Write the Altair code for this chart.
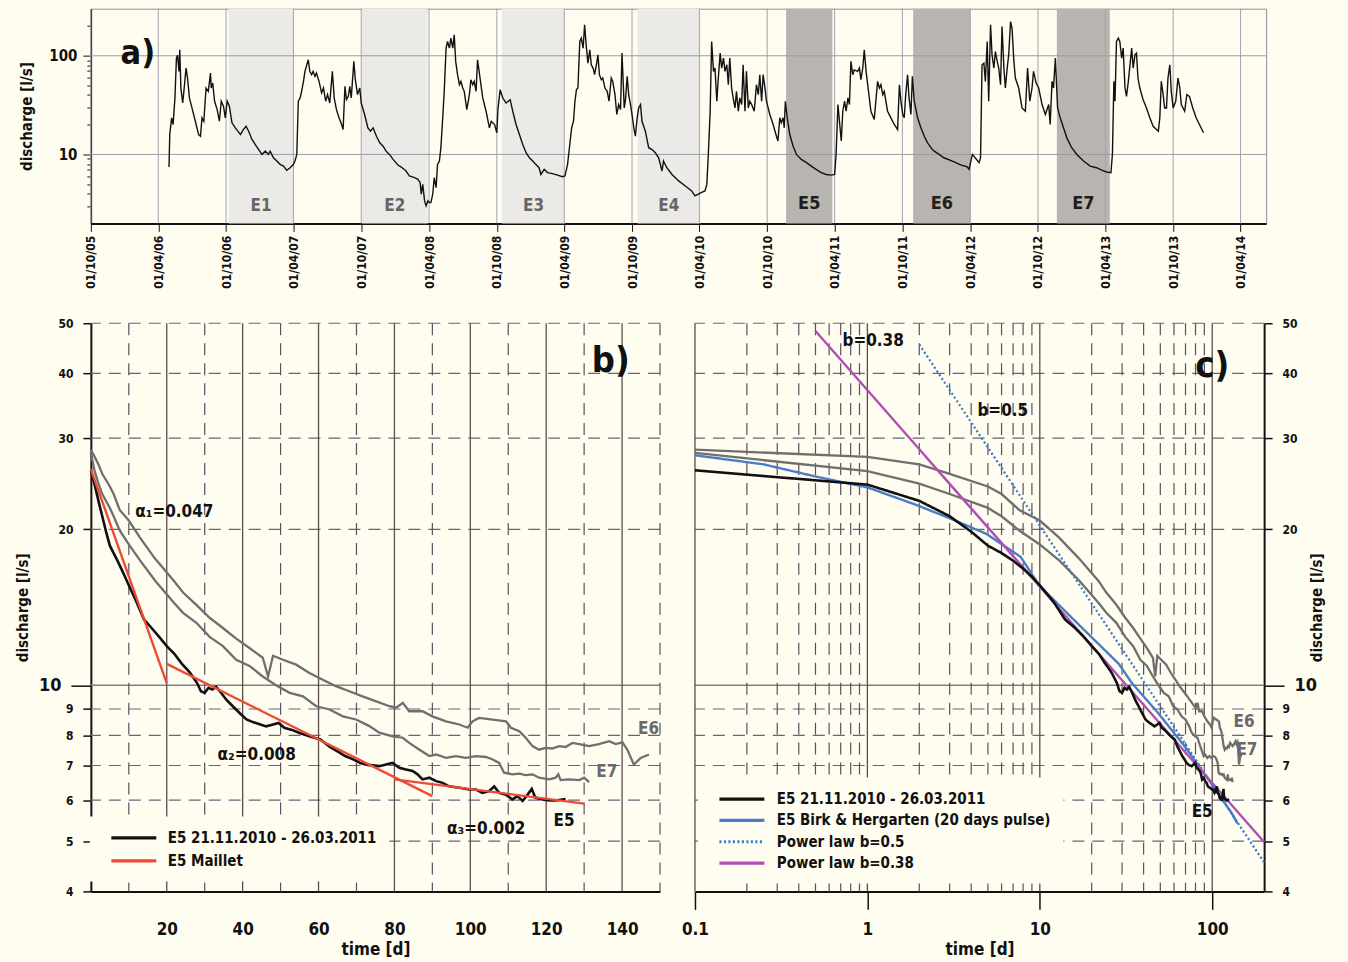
import altair as alt
import pandas as pd

FONT = "Liberation Sans Narrow, Arial Narrow, DejaVu Sans Condensed, sans-serif"
BG = "#fffcf0"
INK = "#111111"
GREY = "#6f6f6f"

# ---------------- panel a: discharge time series ----------------
a_origin = "2006-04-01"   # day offsets below are counted from this date
a_day = [
    29, 31, 36, 40, 45, 49, 52, 56, 58, 61,
    66, 70, 75, 79, 84, 91, 100, 109, 114, 118,
    123, 129, 135, 141, 143, 147, 152, 159, 165, 170,
    176, 181, 186, 192, 199, 208, 222, 230, 237, 244,
    253, 262, 271, 280, 289, 297, 302, 311, 320, 329,
    338, 347, 356, 365, 369, 374, 378, 383, 387, 392,
    396, 401, 405, 409, 414, 418, 423, 427, 434, 441,
    446, 452, 457, 463, 470, 475, 481, 488, 495, 499,
    504, 508, 513, 517, 521, 528, 532, 538, 544, 548,
    557, 566, 573, 580, 589, 598, 607, 615, 624, 634,
    647, 656, 669, 678, 692, 701, 707, 710, 714, 719,
    723, 728, 732, 736, 741, 745, 750, 754, 759, 763,
    768, 772, 777, 781, 786, 790, 795, 799, 803, 808,
    813, 817, 822, 826, 833, 840, 844, 849, 853, 858,
    862, 876, 885, 894, 899, 908, 914, 917, 923, 930,
    939, 950, 957, 966, 975, 984, 993, 1002, 1011, 1019,
    1028, 1033, 1042, 1051, 1064, 1078, 1091, 1098, 1105, 1111,
    1116, 1121, 1125, 1129, 1133, 1138, 1142, 1147, 1151, 1156,
    1160, 1165, 1169, 1174, 1178, 1183, 1187, 1191, 1196, 1200,
    1206, 1212, 1217, 1223, 1227, 1233, 1238, 1243, 1248, 1252,
    1258, 1261, 1266, 1270, 1275, 1279, 1284, 1288, 1293, 1297,
    1302, 1306, 1315, 1324, 1333, 1342, 1351, 1360, 1364, 1373,
    1387, 1405, 1423, 1440, 1449, 1458, 1467, 1476, 1481, 1485,
    1490, 1494, 1499, 1503, 1508, 1512, 1517, 1521, 1526, 1530,
    1535, 1539, 1543, 1548, 1552, 1557, 1561, 1566, 1570, 1575,
    1579, 1584, 1588, 1593, 1597, 1602, 1609, 1615, 1620, 1624,
    1629, 1633, 1638, 1642, 1651, 1660, 1669, 1673, 1678, 1682,
    1687, 1690, 1693, 1698, 1705, 1714, 1723, 1736, 1750, 1763,
    1776, 1790, 1803, 1817, 1826, 1830, 1835, 1839, 1844, 1848,
    1853, 1857, 1862, 1866, 1870, 1875, 1879, 1888, 1893, 1897,
    1902, 1906, 1911, 1924, 1933, 1942, 1947, 1951, 1956, 1960,
    1969, 1978, 1987, 1996, 2001, 2005, 2010, 2014, 2018, 2023,
    2027, 2032, 2036, 2041, 2050, 2059, 2068, 2077, 2090, 2095,
    2108, 2121, 2139, 2153, 2166, 2184, 2189, 2198, 2207, 2216,
    2220, 2224, 2229, 2233, 2238, 2242, 2247, 2251, 2256, 2260,
    2265, 2269, 2274, 2278, 2283, 2287, 2292, 2296, 2301, 2305,
    2310, 2314, 2323, 2332, 2341, 2347, 2353, 2359, 2363, 2370,
    2377, 2386, 2395, 2404, 2408, 2413, 2417, 2422, 2428, 2435,
    2444, 2453, 2466, 2480, 2498, 2516, 2533, 2547, 2560, 2572,
    2576, 2580, 2583, 2587, 2592, 2596, 2601, 2605, 2610, 2614,
    2619, 2628, 2632, 2637, 2641, 2645, 2650, 2659, 2668, 2677,
    2686, 2695, 2700, 2704, 2708, 2713, 2717, 2722, 2726, 2731,
    2735, 2740, 2747, 2753, 2758, 2762, 2771, 2777, 2784, 2793,
    2802, 2811, 2822,
]
a_q = [
    7.45, 15.9, 23.5, 20.1, 37.4, 94.7, 101, 69.5, 115, 47.1,
    33.2, 47.1, 75, 59.5, 37.4, 29.6, 21.7, 15.9, 15.3, 23.5,
    21.7, 47.1, 43.6, 66.8, 47.1, 53, 34.6, 28.5, 21.7, 34.6,
    30.8, 23.5, 34.6, 30.8, 20.9, 18.6, 15.9, 17.9, 19.3, 17.2,
    14.2, 12.6, 11.2, 10, 10.8, 10, 10.8, 9.25, 8.57, 7.93,
    7.62, 6.9, 7.33, 7.93, 8.57, 10, 34.6, 37.4, 43.6, 55,
    69.5, 81, 91.1, 69.5, 64.3, 69.5, 61.8, 66.8, 55, 42,
    47.1, 34.6, 40.4, 33.2, 69.5, 37.4, 28.5, 23.5, 20.1, 17.9,
    49, 36, 38.8, 49, 37.4, 87.7, 57.2, 40.4, 47.1, 33.2,
    25.4, 18.6, 17.2, 18.6, 15.3, 13.1, 12.1, 10.8, 10, 8.9,
    7.8, 7.45, 6.79, 6.04, 5.81, 5.59, 5.17, 3.95, 4.97, 3.38,
    3.01, 3.38, 3.25, 3.25, 3.95, 5.81, 4.6, 7.93, 8.57, 11.7,
    23.5, 43.6, 119.5, 139.5, 119.5, 150.8, 119.5, 163, 87.7, 64.3,
    50.9, 55, 47.1, 43.6, 28.5, 40.4, 57.2, 50.9, 55, 43.6,
    91, 37.4, 27.4, 18.6, 21.7, 20.1, 16.6, 28.5, 45.4, 37.4,
    33.2, 35.9, 27.4, 20.1, 15.9, 12.6, 10.4, 9.25, 8.57, 7.93,
    7.33, 6.26, 7.05, 6.54, 6.38, 6.17, 5.94, 6.04, 7.93, 12.6,
    18.6, 21.7, 34.6, 45.4, 47.1, 139.5, 150.8, 119.5, 205.8, 119.5,
    84.3, 115, 81.1, 75.1, 64.3, 81.1, 102.4, 64.3, 57.2, 59.5,
    47.1, 43.6, 34.6, 59.5, 55, 40.4, 25.4, 32.0, 28.5, 106.4,
    29.6, 34.6, 61.8, 40.4, 32.0, 25.4, 18.6, 15.3, 23.5, 29.6,
    32.0, 21.7, 17.2, 11.7, 11.2, 10.4, 9.25, 6.79, 8.57, 7.33,
    6.26, 5.39, 4.79, 4.27, 3.8, 3.95, 4.13, 4.27, 4.97, 10,
    27.4, 139.5, 69.5, 75.1, 34.6, 59.5, 106.4, 75.1, 94.7, 69.5,
    81.1, 50.9, 94.7, 47.1, 37.4, 29.6, 43.6, 27.4, 37.4, 32.0,
    81.1, 27.4, 69.5, 29.6, 34.6, 32.0, 27.4, 50.9, 40.4, 64.3,
    34.6, 64.3, 47.1, 34.6, 25.4, 20.1, 15.3, 13.7, 23.5, 20.9,
    23.5, 18.6, 34.6, 23.5, 15.9, 12.1, 10, 8.9, 8.26, 7.62,
    7.05, 6.54, 6.26, 6.17, 6.26, 10, 32.0, 21.7, 13.7, 27.4,
    34.6, 27.4, 37.4, 32.0, 87.7, 64.3, 72, 69.5, 75.1, 57.2,
    75.1, 115, 69.5, 27.4, 22.6, 55, 47.1, 50.9, 40.4, 43.6,
    27.4, 23.5, 20.1, 17.9, 50.9, 34.6, 25.4, 23.5, 40.4, 64.3,
    37.4, 25.4, 61.8, 34.6, 23.5, 18.6, 15.3, 13.1, 11.2, 10.8,
    10.0, 9.25, 8.7, 8.26, 7.83, 7.5, 7.05, 10.0, 9.1, 8.26,
    9.25, 81.1, 84.3, 55, 139.5, 34.6, 205.8, 102.4, 75.1, 110.6,
    87.7, 75.1, 50.9, 197.6, 75.1, 47.1, 75.1, 102.4, 222, 190.3,
    87.7, 59.5, 47.1, 29.6, 27.4, 75.1, 34.6, 47.1, 69.5, 52.9,
    47.1, 32.0, 25.4, 32.0, 20.1, 55, 47.1, 94.7, 29.6, 23.5,
    18.6, 14.7, 11.7, 10.0, 8.57, 7.62, 7.33, 6.94, 6.64, 6.54,
    10.0, 55, 34.6, 139.5, 150.8, 139.5, 94.7, 119.5, 47.1, 38.8,
    55, 119.5, 75.1, 102.4, 106.4, 59.5, 47.1, 35.9, 29.6, 23.5,
    19.3, 17.9, 17.2, 23.5, 55, 40.4, 29.6, 29.6, 59.5, 81.1,
    43.6, 29.6, 34.6, 59.5, 47.1, 32.0, 27.4, 40.4, 38.8, 29.6,
    23.5, 20.1, 16.6,
]
assert len(a_day) == len(a_q)

event_names = ["E1", "E2", "E3", "E4", "E5", "E6", "E7"]
event_start = ["2006-10-08", "2007-10-03", "2008-10-15", "2009-10-16",
               "2010-11-21", "2011-10-30", "2012-11-21"]
event_end = ["2007-04-01", "2008-03-28", "2009-04-03", "2010-04-03",
             "2011-03-26", "2012-04-02", "2013-04-13"]
event_dark = [False, False, False, False, True, True, True]

a_tick_dates = [f"{y}-{m:02d}-01" for y in range(2005, 2015) for m in (1, 4, 7, 10)
                if "2005-10-01" <= f"{y}-{m:02d}-01" <= "2014-04-01"]
a_grid_dates = [d for d in a_tick_dates if d[5:7] in ("04", "10")]
a_grid_q = [10, 100]
a_y_ticks = [3, 4, 5, 6, 7, 8, 9, 10, 20, 30, 40, 50, 60, 70, 80, 90, 100, 200]

# ---------------- panels b and c: recession curves ----------------
E5_LABEL = "E5 21.11.2010 - 26.03.2011"
e5_day = [
    0, 1, 2, 3, 4, 5, 6, 7, 8, 9,
    10, 12, 14, 16, 18, 20, 22, 24, 26, 28,
    29, 30, 31, 32, 33, 34, 35.7, 37.4, 39.2, 41,
    42.7, 44.5, 46.2, 48, 49.5, 51, 53, 55, 58, 60.5,
    63, 65, 67, 69, 71, 73, 76, 77.8, 79.5, 81.3,
    83, 84.8, 86.1, 87.4, 89.2, 91, 92.7, 94.4, 97.1, 99.7,
    101.5, 103.2, 105, 106.3, 107.6, 109.4, 111.1, 112.4, 113.8, 115.1,
    116.2, 117.1, 119, 120.8, 122.5, 125.1,
]
e5_q = [
    26.0, 24.4, 22.7, 21.2, 19.8, 18.6, 18.0, 17.4, 16.8, 16.2,
    15.6, 14.5, 13.4, 12.9, 12.4, 11.9, 11.5, 11.0, 10.6, 10.1,
    9.74, 9.67, 9.89, 9.81, 9.93, 9.74, 9.38, 9.11, 8.84, 8.59,
    8.49, 8.41, 8.33, 8.40, 8.46, 8.28, 8.20, 8.09, 7.95, 7.86,
    7.60, 7.45, 7.30, 7.20, 7.08, 7.02, 6.98, 7.03, 7.08, 6.93,
    6.88, 6.83, 6.73, 6.58, 6.63, 6.53, 6.48, 6.38, 6.34, 6.29,
    6.29, 6.20, 6.25, 6.38, 6.20, 6.15, 6.02, 6.11, 5.98, 6.15,
    6.31, 6.07, 6.02, 5.99, 5.99, 6.03,
]
e6_day = [
    0, 1, 2, 3, 5, 6, 7.6, 10, 12.9, 16.8,
    21.9, 24.3, 27.8, 31.3, 34.8, 38.3, 41.8, 45.3, 46.7, 47.5,
    48, 50.6, 54.1, 57.6, 61.1, 64.6, 68.1, 71.6, 75.2, 78.7,
    80.5, 82.2, 83.9, 87.4, 90, 93.6, 97.1, 99.3, 100.6, 102.3,
    105.9, 109.4, 110.7, 112.9, 114.6, 116.4, 118.1, 119.9, 121.6, 123.4,
    125.1, 126.9, 128.7, 131.3, 133.9, 136.6, 138.3, 140.1, 141.4, 143.1,
    144.9, 147.1,
]
e6_q = [
    28.5, 27.6, 26.7, 25.6, 24.2, 23.4, 21.8, 20.8, 19.3, 17.6,
    15.9, 15.1, 14.3, 13.5, 12.9, 12.3, 11.8, 11.3, 10.4, 11.0,
    11.4, 11.2, 10.96, 10.56, 10.25, 9.96, 9.74, 9.52, 9.31, 9.11,
    9.05, 9.25, 8.91, 8.91, 8.71, 8.52, 8.40, 8.28, 8.52, 8.65,
    8.58, 8.52, 8.28, 8.15, 7.92, 7.63, 7.51, 7.57, 7.55, 7.63,
    7.60, 7.74, 7.70, 7.63, 7.70, 7.80, 7.70, 7.76, 7.51, 7.03,
    7.24, 7.35,
]
e7_day = [
    0, 1, 2, 3, 5, 6, 7.6, 10, 13, 17,
    22, 24.3, 27.8, 31.3, 34.8, 38.3, 41.8, 45.3, 48.8, 52.4,
    55.9, 59.4, 62.9, 66.4, 69.9, 73.4, 76, 79.5, 82.2, 83.9,
    86.6, 89.2, 91, 93.6, 96.2, 98.8, 101.5, 104.1, 105.9, 107.6,
    108.9, 111.1, 112.9, 114.6, 116.4, 118.1, 120.8, 122.5, 123.2, 123.8,
    126, 128.7, 130, 131.3,
]
e7_q = [
    28.1, 25.9, 24.5, 23.4, 22.0, 21.2, 19.9, 18.7, 17.4, 15.9,
    14.4, 13.8, 13.2, 12.4, 11.9, 11.2, 10.9, 10.4, 10.0, 9.67,
    9.52, 9.11, 8.98, 8.71, 8.59, 8.34, 8.10, 7.97, 7.92, 7.74,
    7.51, 7.30, 7.35, 7.24, 7.30, 7.24, 7.30, 7.27, 7.19, 7.08,
    6.78, 6.73, 6.75, 6.71, 6.73, 6.63, 6.58, 6.63, 6.73, 6.56,
    6.58, 6.56, 6.63, 6.50,
]
assert len(e5_day) == len(e5_q) and len(e6_day) == len(e6_q) and len(e7_day) == len(e7_q)

maillet_seg = [1, 1, 2, 2, 3, 3]
maillet_day = [0, 20, 20, 90, 80, 130]
maillet_q = [26.1, 10.1, 11.0, 6.11, 6.58, 5.91]

birk_t = [0.1, 0.25, 0.5, 1, 1.92, 3.12, 4.9, 7.74, 9.9, 16.8, 28.7, 34.2, 48.8, 69.7, 99, 130, 140]
birk_q = [27.8, 26.7, 25.3, 24.1, 22.3, 20.9, 19.6, 17.7, 15.6, 13.1, 11.0, 10.1, 8.82, 7.6, 6.45, 5.66, 5.41]
pow05_t = [2, 200]
pow05_q = [45.5, 4.55]
pow038_t = [0.5, 200]
pow038_q = [48.3, 4.98]

bc_y_ticks = [4, 5, 6, 7, 8, 9, 10, 20, 30, 40, 50]
bc_hgrid_dashed = [5, 6, 7, 8, 9, 20, 30, 40, 50]
bc_hgrid_solid = [10]
b_vgrid_solid = [20, 40, 60, 80, 100, 120, 140]
b_vgrid_dashed = [10, 30, 50, 70, 90, 110, 130, 150]
b_x_ticks = [20, 40, 60, 80, 100, 120, 140]
c_vgrid_solid = [0.1, 1, 10, 100]
c_vgrid_dashed = [0.2, 0.3, 0.4, 0.5, 0.6, 0.7, 0.8, 0.9,
                  2, 3, 4, 5, 6, 7, 8, 9,
                  20, 30, 40, 50, 60, 70, 80, 90]
c_x_ticks = [0.1, 1, 10, 100]

C_SERIES = [E5_LABEL, "E5 Birk & Hergarten (20 days pulse)", "Power law b=0.5", "Power law b=0.38"]

# ---------------- frames ----------------
def dt(s):
    ts = pd.Timestamp(s)
    return alt.DateTime(year=ts.year, month=ts.month, date=ts.day)

base = pd.Timestamp(a_origin)
df_a = pd.DataFrame({"date": base + pd.to_timedelta(a_day, unit="D"), "q": a_q})
df_ev = pd.DataFrame({"name": event_names, "start": pd.to_datetime(event_start),
                      "end": pd.to_datetime(event_end), "dark": event_dark})
df_ev["mid"] = df_ev["start"] + (df_ev["end"] - df_ev["start"]) / 2

A_W, A_H = 1177, 215
P_W, P_H = 570, 569

xa_scale = alt.Scale(domain=[dt("2005-10-01"), dt("2014-06-09")], nice=False)
ya_scale = alt.Scale(type="log", domain=[2, 300], nice=False)
xa_axis = alt.Axis(values=[dt(d) for d in a_tick_dates],
                   labelExpr="(month(datum.value)==3||month(datum.value)==9) ? timeFormat(datum.value,'%d/%m/%y') : ''",
                   labelAngle=270, labelAlign="right", labelBaseline="middle",
                   labelFontSize=12, tickSize=8, labelPadding=4, title=None,
                   labelOverlap=False, labelFlush=False, grid=False, domainWidth=2)
ya_axis = alt.Axis(values=a_y_ticks,
                   labelExpr="datum.value==10 ? '10' : (datum.value==100 ? '100' : '')",
                   tickSize={"condition": {"test": "datum.value==10 || datum.value==100", "value": 8}, "value": 4},
                   labelFontSize=15, labelPadding=6, title="discharge [l/s]", titleFontSize=15,
                   titlePadding=14, grid=False, domainWidth=1.5, labelOverlap=False)

def XA(field):
    return alt.X(field, scale=xa_scale, axis=xa_axis)

def YA(field):
    return alt.Y(field, scale=ya_scale, axis=ya_axis)

light = df_ev[~df_ev["dark"]]
dark = df_ev[df_ev["dark"]]
shade_l = alt.Chart(light).mark_rect(color="#ebeae6").encode(
    x=XA("start:T"), x2="end:T", y=alt.value(0), y2=alt.value(A_H))
shade_d = alt.Chart(dark).mark_rect(color="#b8b4af").encode(
    x=XA("start:T"), x2="end:T", y=alt.value(0), y2=alt.value(A_H))
vgrid_a = alt.Chart(pd.DataFrame({"date": pd.to_datetime(a_grid_dates)})).mark_rule(
    color="#a3a3b0", strokeWidth=1).encode(x=XA("date:T"))
hgrid_a = alt.Chart(pd.DataFrame({"q": a_grid_q})).mark_rule(
    color="#9b9bab", strokeWidth=1).encode(y=YA("q:Q"))
line_a = alt.Chart(df_a).mark_line(color=INK, strokeWidth=1.4).encode(x=XA("date:T"), y=YA("q:Q"))
lab_l = alt.Chart(light).mark_text(font=FONT, fontSize=17, fontWeight="bold", color="#666666").encode(
    x=XA("mid:T"), y=alt.value(198), text="name:N")
lab_d = alt.Chart(dark).mark_text(font=FONT, fontSize=18, fontWeight="bold", color="#1e1e1e").encode(
    x=XA("mid:T"), y=alt.value(196), text="name:N")
tag_a = alt.Chart(pd.DataFrame({"s": ["a)"]})).mark_text(
    font=FONT, fontSize=34, fontWeight="bold", color=INK).encode(
    x=alt.datum(dt("2006-02-05")), y=alt.datum(105), text="s:N")

chart_a = alt.layer(shade_l, shade_d, vgrid_a, hgrid_a, line_a, lab_l, lab_d, tag_a).properties(
    width=A_W, height=A_H, view=alt.ViewBackground(stroke="#8f8fa0", strokeWidth=1))

# ---- shared y for b / c
y_bc_scale = alt.Scale(type="log", domain=[4, 50], nice=False)

def y_bc_axis(orient):
    extra = {"titleAngle": 270} if orient == "right" else {}
    return alt.Axis(values=bc_y_ticks, orient=orient, format="d",
                    labelFontSize={"condition": {"test": "datum.value==10", "value": 18}, "value": 12},
                    tickSize={"condition": {"test": "datum.value==10", "value": 20}, "value": 8},
                    labelPadding=10, title="discharge [l/s]", titleFontSize=15, titlePadding=8,
                    grid=False, domainWidth=2, tickWidth=1.5, labelOverlap=False, **extra)

# ---------------- panel b ----------------
xb_scale = alt.Scale(domain=[0, 150], nice=False)
xb_axis = alt.Axis(values=b_x_ticks, ticks=False, labelPadding=30, labelFontSize=17,
                   title="time [d]", titleFontSize=17, titlePadding=4, grid=False, domainWidth=2)

def XB(f):
    return alt.X(f, scale=xb_scale, axis=xb_axis)

def YB(f):
    return alt.Y(f, scale=y_bc_scale, axis=y_bc_axis("left"))

df_e5 = pd.DataFrame({"day": e5_day, "q": e5_q, "series": E5_LABEL})
df_grey = pd.concat([pd.DataFrame({"day": e6_day, "q": e6_q, "ev": "E6"}),
                     pd.DataFrame({"day": e7_day, "q": e7_q, "ev": "E7"})])
df_mai = pd.DataFrame({"day": maillet_day, "q": maillet_q, "seg": maillet_seg, "series": "E5 Maillet"})

b_color = alt.Scale(domain=[E5_LABEL, "E5 Maillet"], range=[INK, "#ef4a35"])
leg_b = alt.Legend(title=None, orient="none", legendX=-1, legendY=494, symbolType="M0,0L6,0",
                   symbolSize=225, symbolStrokeWidth=3.2, labelFont=FONT, labelFontSize=15,
                   labelFontWeight="bold", labelColor=INK, labelOffset=47, rowPadding=5,
                   padding=12, fillColor=BG, labelLimit=500)

b_hd = alt.Chart(pd.DataFrame({"q": bc_hgrid_dashed})).mark_rule(
    color="#66657a", strokeWidth=1.2, strokeDash=[12, 8]).encode(y=YB("q:Q"))
b_hs = alt.Chart(pd.DataFrame({"q": bc_hgrid_solid})).mark_rule(
    color="#808080", strokeWidth=1.6).encode(y=YB("q:Q"))
b_vs = alt.Chart(pd.DataFrame({"day": b_vgrid_solid})).mark_rule(
    color="#5e4c4c", strokeWidth=1.3).encode(x=XB("day:Q"))
b_vd = alt.Chart(pd.DataFrame({"day": b_vgrid_dashed})).mark_rule(
    color="#5e5060", strokeWidth=1.2, strokeDash=[12, 8]).encode(x=XB("day:Q"))
b_grey = alt.Chart(df_grey).mark_line(color=GREY, strokeWidth=2.3).encode(
    x=XB("day:Q"), y=YB("q:Q"), detail="ev:N")
b_e5 = alt.Chart(df_e5).mark_line(strokeWidth=2.6).encode(
    x=XB("day:Q"), y=YB("q:Q"), color=alt.Color("series:N", scale=b_color, legend=leg_b))
b_mai = alt.Chart(df_mai).mark_line(strokeWidth=2.4).encode(
    x=XB("day:Q"), y=YB("q:Q"), detail="seg:N", color=alt.Color("series:N", scale=b_color, legend=leg_b))

def note(txt, x, y, size=17, color=INK, align="center"):
    return alt.Chart(pd.DataFrame({"s": [txt]})).mark_text(
        font=FONT, fontSize=size, fontWeight="bold", color=color, align=align).encode(
        x=alt.datum(x), y=alt.datum(y), text="s:N")

b_notes = [
    note("α\u2081=0.047", 22, 21.6),
    note("α\u2082=0.008", 43.7, 7.32),
    note("α\u2083=0.002", 104.2, 5.27),
    note("b)", 137, 42.3, size=36),
    note("E6", 147, 8.25, color="#6a6a6a"),
    note("E7", 136, 6.79, color="#6a6a6a"),
    note("E5", 124.7, 5.46),
]
chart_b = alt.layer(b_hd, b_hs, b_vs, b_vd, b_grey, b_e5, b_mai, *b_notes).properties(width=P_W, height=P_H)

# ---------------- panel c ----------------
xc_scale = alt.Scale(type="log", domain=[0.1, 200], nice=False)
xc_axis = alt.Axis(values=c_x_ticks, format="~g", tickSize=18, tickWidth=1.5, labelPadding=12,
                   labelFontSize=17, title="time [d]", titleFontSize=17, titlePadding=4,
                   grid=False, domainWidth=2, labelFlush=False)

def XC(f):
    return alt.X(f, scale=xc_scale, axis=xc_axis)

def YC(f):
    return alt.Y(f, scale=y_bc_scale, axis=y_bc_axis("right"))

def to_c(days):
    return [0.1 if d == 0 else d for d in days]

df_c_e5 = pd.DataFrame({"t": to_c(e5_day), "q": e5_q, "series": C_SERIES[0]})
df_c_grey = pd.concat([pd.DataFrame({"t": to_c(e6_day), "q": e6_q, "ev": "E6"}),
                       pd.DataFrame({"t": to_c(e7_day), "q": e7_q, "ev": "E7"})])
df_birk = pd.DataFrame({"t": birk_t, "q": birk_q, "series": C_SERIES[1]})
df_p05 = pd.DataFrame({"t": pow05_t, "q": pow05_q, "series": C_SERIES[2]})
df_p038 = pd.DataFrame({"t": pow038_t, "q": pow038_q, "series": C_SERIES[3]})

c_color = alt.Scale(domain=C_SERIES, range=[INK, "#4a7dc9", "#3579cc", "#b24db6"])
c_dash = alt.Scale(domain=C_SERIES, range=[[1, 0], [1, 0], [2, 2.5], [1, 0]])
leg_c = alt.Legend(title=None, orient="none", legendX=3, legendY=455, symbolType="M0,0L6,0",
                   symbolSize=225, symbolStrokeWidth=3.2, labelFont=FONT, labelFontSize=15,
                   labelFontWeight="bold", labelColor=INK, labelOffset=48, rowPadding=3.4,
                   padding=12, fillColor=BG, labelLimit=500)

def cline(df, w):
    return alt.Chart(df).mark_line(strokeWidth=w).encode(
        x=XC("t:Q"), y=YC("q:Q"),
        color=alt.Color("series:N", scale=c_color, legend=leg_c),
        strokeDash=alt.StrokeDash("series:N", scale=c_dash, legend=leg_c))

c_hd = alt.Chart(pd.DataFrame({"q": bc_hgrid_dashed})).mark_rule(
    color="#66657a", strokeWidth=1.2, strokeDash=[12, 8]).encode(y=YC("q:Q"))
c_hs = alt.Chart(pd.DataFrame({"q": bc_hgrid_solid})).mark_rule(
    color="#808080", strokeWidth=1.6).encode(y=YC("q:Q"))
c_vs = alt.Chart(pd.DataFrame({"t": c_vgrid_solid})).mark_rule(
    color="#5e4c4c", strokeWidth=1.3).encode(x=XC("t:Q"))
c_vd = alt.Chart(pd.DataFrame({"t": c_vgrid_dashed})).mark_rule(
    color="#5e5060", strokeWidth=1.2, strokeDash=[12, 8]).encode(x=XC("t:Q"))
c_grey = alt.Chart(df_c_grey).mark_line(color=GREY, strokeWidth=2.3).encode(
    x=XC("t:Q"), y=YC("q:Q"), detail="ev:N")
c_notes = [
    note("b=0.38", 1.08, 46.2),
    note("b=0.5", 6.1, 33.9),
    note("c)", 100, 41.4, size=36),
    note("E6", 153, 8.51, color="#6a6a6a"),
    note("E7", 159, 7.5, color="#6a6a6a"),
    note("E5", 87.5, 5.7),
]
chart_c = alt.layer(c_hd, c_hs, c_vs, c_vd, c_grey,
                    cline(df_birk, 2.4), cline(df_p05, 2.2), cline(df_p038, 2.4), cline(df_c_e5, 2.6),
                    *c_notes).properties(width=P_W, height=P_H)

bc = alt.hconcat(chart_b, chart_c, spacing=35, bounds="flush").resolve_scale(
    color="independent", strokeDash="independent").resolve_legend(
    color="independent", strokeDash="independent")

chart = alt.vconcat(chart_a, bc, spacing=100, bounds="flush").configure(
    background=BG, padding={"left": 15, "top": 7, "right": 23, "bottom": 4}, font=FONT
).configure_view(strokeWidth=0).configure_axis(
    labelFont=FONT, titleFont=FONT, labelFontWeight="bold", titleFontWeight="bold",
    labelColor=INK, titleColor=INK, domainColor=INK, tickColor=INK)

chart.save("out.html", embed_options={"renderer": "svg", "actions": False})
